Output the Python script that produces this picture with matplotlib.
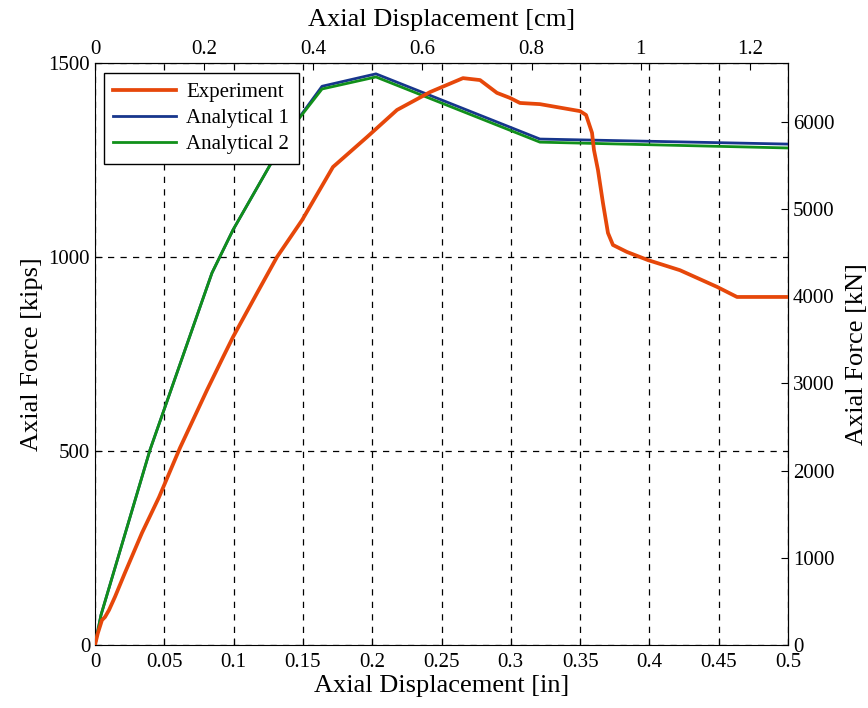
import matplotlib
matplotlib.use('Agg')
import matplotlib.pyplot as plt
from matplotlib.ticker import FuncFormatter
import numpy as np

plt.rcParams['font.family'] = ['Liberation Serif', 'DejaVu Serif']

# axial displacement [in], axial force [kips]
exp_x = [0.0, 0.002, 0.005, 0.0072, 0.0101, 0.0144, 0.0216, 0.0339, 0.0462,
         0.0613, 0.0808, 0.0924, 0.0996, 0.1169, 0.1313, 0.1494, 0.1717,
         0.1962, 0.2179, 0.2417, 0.2655, 0.2778, 0.29, 0.2994, 0.3066,
         0.321, 0.3499, 0.3543, 0.3586, 0.36, 0.3629, 0.3665, 0.3701,
         0.3737, 0.3838, 0.399, 0.422, 0.4488, 0.4632, 0.4993]
exp_y = [0, 30, 64, 72, 90, 124, 186, 289, 381,
         508, 657, 742, 794, 907, 1000, 1095, 1232,
         1309, 1379, 1425, 1461, 1456, 1423, 1410, 1397,
         1394, 1376, 1366, 1320, 1276, 1224, 1139, 1062,
         1031, 1013, 992, 966, 923, 897, 897]

an1_x = [0.0, 0.0043, 0.0397, 0.0844, 0.0996, 0.1407, 0.1638, 0.2027, 0.321, 0.5]
an1_y = [0, 77, 503, 959, 1070, 1327, 1440, 1472, 1304, 1291]

an2_x = [0.0, 0.0043, 0.0397, 0.0844, 0.0996, 0.1407, 0.1638, 0.2027, 0.321, 0.5]
an2_y = [0, 77, 503, 959, 1070, 1327, 1433, 1464, 1296, 1281]

IN2CM = 2.54
KIP2KN = 4.448

fig = plt.figure(figsize=(8.68, 7.08), dpi=100)
ax = fig.add_axes([95 / 868, 1 - 645 / 708, 693 / 868, 582 / 708])

ax.plot(an1_x, an1_y, color='#17368c', lw=2.0, label='Analytical 1', zorder=3)
ax.plot(an2_x, an2_y, color='#11901a', lw=2.0, label='Analytical 2', zorder=3)
ax.plot(exp_x, exp_y, color='#e6470a', lw=2.7, label='Experiment', zorder=4)

ax.set_xlim(0, 0.5)
ax.set_ylim(0, 1500)
ax.set_xticks(np.arange(0, 0.501, 0.05))
ax.set_yticks([0, 500, 1000, 1500])
fmt = FuncFormatter(lambda v, p: '%g' % round(v, 4))
ax.xaxis.set_major_formatter(fmt)
ax.yaxis.set_major_formatter(fmt)
ax.tick_params(direction='in', length=5, labelsize=15, top=False, right=False)
ax.tick_params(axis='x', pad=6)
ax.grid(True, color='black', ls=(0, (5, 5)), lw=0.9)
ax.set_xlabel('Axial Displacement [in]', fontsize=19, labelpad=2)
ax.set_ylabel('Axial Force [kips]', fontsize=19, labelpad=4)

top = ax.secondary_xaxis('top', functions=(lambda v: v * IN2CM, lambda v: v / IN2CM))
top.set_xticks(np.arange(0, 1.21, 0.2))
top.xaxis.set_major_formatter(fmt)
top.tick_params(direction='in', length=5, labelsize=15, pad=3)
top.set_xlabel('Axial Displacement [cm]', fontsize=19, labelpad=10)

right = ax.secondary_yaxis('right', functions=(lambda v: v * KIP2KN, lambda v: v / KIP2KN))
right.set_yticks(np.arange(0, 6001, 1000))
right.yaxis.set_major_formatter(fmt)
right.tick_params(direction='in', length=5, labelsize=15)
right.set_ylabel('Axial Force [kN]', fontsize=19, labelpad=8)

h, l = ax.get_legend_handles_labels()
order = [2, 0, 1]
leg = ax.legend([h[i] for i in order], [l[i] for i in order], loc='upper left',
                bbox_to_anchor=(0.013, 0.983), borderaxespad=0, fontsize=15,
                fancybox=False, framealpha=1, edgecolor='black',
                handlelength=3.0, borderpad=0.45, labelspacing=0.32,
                handletextpad=0.5)
leg.get_frame().set_linewidth(1.0)

fig.savefig('out.png', dpi=100)
